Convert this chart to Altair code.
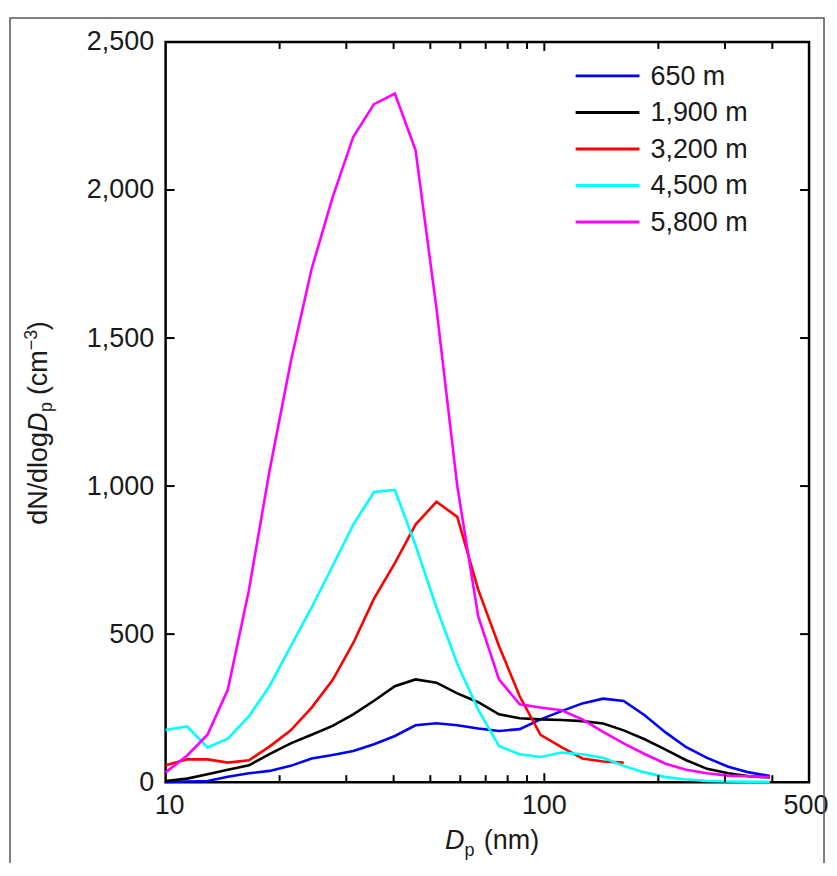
import altair as alt
import pandas as pd

# particle diameter grid (nm)
dp = [10.0, 11.4, 12.9, 14.6, 16.6, 18.8, 21.4, 24.3, 27.6, 31.3, 35.5, 40.3, 45.7, 51.9,
      58.9, 66.9, 75.9, 86.1, 97.7, 111, 126, 143, 162, 184, 209, 237, 269, 306, 347, 394]

# dN/dlogDp (cm^-3) per altitude
v650 = [1, 2, 4, 18, 30, 38, 55, 80, 92, 105, 128, 156, 192, 199, 192, 181, 173, 179, 212,
        240, 266, 282, 274, 226, 168, 118, 82, 52, 33, 21]
v1900 = [4, 12, 27, 42, 57, 95, 131, 160, 190, 229, 275, 324, 347, 336, 300, 270, 229, 216,
         212, 210, 206, 198, 175, 145, 110, 74, 45, 30, 20, 16]
v3200 = [57, 77, 77, 66, 74, 120, 175, 252, 345, 470, 620, 740, 870, 947, 896, 650, 460, 290,
         160, 118, 80, 70, 66, None, None, None, None, None, None, None]
v4500 = [176, 188, 117, 147, 223, 324, 459, 590, 730, 870, 980, 987, 800, 590, 400, 245, 122,
         94, 85, 100, 94, 82, 55, 33, 17, 9, 4, 2, 1, 1]
v5800 = [33, 90, 160, 313, 650, 1050, 1420, 1734, 1975, 2180, 2290, 2326, 2135, 1600, 1000,
         560, 347, 263, 252, 243, 212, 170, 131, 95, 62, 42, 30, 22, 20, 17]

labels = ["650 m", "1,900 m", "3,200 m", "4,500 m", "5,800 m"]
colors = ["#0000ff", "#000000", "#ff0000", "#00ffff", "#ff00ff"]
series = [v650, v1900, v3200, v4500, v5800]

x_label_values = [10, 100, 500]
x_label_text = ["10", "100", "500"]
x_minor_ticks = [20, 30, 40, 50, 60, 70, 80, 90, 200, 300, 400]
x_major_ticks = [100]
y_label_values = [0, 500, 1000, 1500, 2000, 2500]
y_ticks = [500, 1000, 1500, 2000]

W, H = 645, 742
FONT = "Liberation Sans"
TXT = "#1a1a1a"
FS = 27

xscale = alt.Scale(type="log", domain=[10, 500], nice=False)
yscale = alt.Scale(domain=[0, 2500], nice=False, zero=False)

yaxis = alt.Axis(values=y_label_values, ticks=False, domain=False, grid=False,
                 labelFontSize=FS, labelFont=FONT, labelColor=TXT, labelPadding=12,
                 labelOverlap=False, format=",.0f", title=None)
X = alt.X("dp:Q", scale=xscale, axis=None)
Y = alt.Y("val:Q", scale=yscale, axis=yaxis)

layers = []

for lab, col, vals in zip(labels, colors, series):
    d = pd.DataFrame({"dp": dp, "val": vals}).dropna()
    layers.append(alt.Chart(d).mark_line(color=col, strokeWidth=2.6).encode(x=X, y=Y))

# inward ticks
tick_style = dict(color="black", strokeWidth=2)
xt = pd.DataFrame({"dp": x_minor_ticks})
xT = pd.DataFrame({"dp": x_major_ticks})
yt = pd.DataFrame({"val": y_ticks})
layers += [
    alt.Chart(xt).mark_rule(**tick_style).encode(x=X, y=alt.value(H), y2=alt.value(H - 7)),
    alt.Chart(xt).mark_rule(**tick_style).encode(x=X, y=alt.value(0), y2=alt.value(7)),
    alt.Chart(xT).mark_rule(**tick_style).encode(x=X, y=alt.value(H), y2=alt.value(H - 9)),
    alt.Chart(xT).mark_rule(**tick_style).encode(x=X, y=alt.value(0), y2=alt.value(9)),
    alt.Chart(yt).mark_rule(**tick_style).encode(y=Y, x=alt.value(0), x2=alt.value(9)),
    alt.Chart(yt).mark_rule(**tick_style).encode(y=Y, x=alt.value(W - 9), x2=alt.value(W)),
]

# x tick labels (drawn at their data positions)
label_dx = [4, 0, -3]
for v, t, dx in zip(x_label_values, x_label_text, label_dx):
    layers.append(
        alt.Chart(pd.DataFrame({"dp": [v], "lab": [t]}))
        .mark_text(align="center", baseline="top", font=FONT, fontSize=FS, color=TXT, dx=dx)
        .encode(x=X, y=alt.value(H + 11), text="lab:N")
    )

one = pd.DataFrame({"a": [0]})

# outer figure frame
layers.append(
    alt.Chart(one).mark_rect(filled=False, stroke="#555555", strokeWidth=1.5)
    .encode(x=alt.value(10 - 166), x2=alt.value(826 - 166), y=alt.value(17 - 41), y2=alt.value(H + 200))
)

# legend (manual)
for i, (lab, col) in enumerate(zip(labels, colors)):
    yy = 34 + i * 36.6
    layers.append(alt.Chart(one).mark_rule(color=col, strokeWidth=3)
                  .encode(x=alt.value(411), x2=alt.value(475), y=alt.value(yy)))
    layers.append(alt.Chart(one).mark_text(align="left", baseline="middle", font=FONT, fontSize=FS, color=TXT)
                  .encode(x=alt.value(486), y=alt.value(yy + 1), text=alt.value(lab)))


def txt(s, x, y, size=FS, style="normal", angle=0):
    return alt.Chart(one).mark_text(align="left", baseline="alphabetic", font=FONT, fontSize=size,
                                    fontStyle=style, color=TXT, angle=angle).encode(
        x=alt.value(x), y=alt.value(y), text=alt.value(s))


# x axis title: D_p (nm)
layers += [
    txt("D", 280, 809, style="italic"),
    txt("p", 299.5, 816, size=18),
    txt("(nm)", 319, 809),
]

# y axis title: dN/dlogD_p (cm^-3), rotated
bx = -119
layers += [
    txt("dN/dlog", bx, 484, angle=270),
    txt("D", bx, 391, style="italic", angle=270),
    txt("p", bx + 5, 371, size=18, angle=270),
    txt("(cm", bx, 354, angle=270),
    txt("\u22123", bx - 10, 309, size=18, angle=270),
    txt(")", bx, 289, angle=270),
]

chart = alt.layer(*layers).properties(
    width=W, height=H,
    padding={"left": 158, "top": 33, "right": 20, "bottom": 80},
    autosize=alt.AutoSizeParams(type="none"),
    background="white",
).configure_view(stroke="black", strokeWidth=2.5)

chart.save("out.html", embed_options={"renderer": "svg", "actions": False})
